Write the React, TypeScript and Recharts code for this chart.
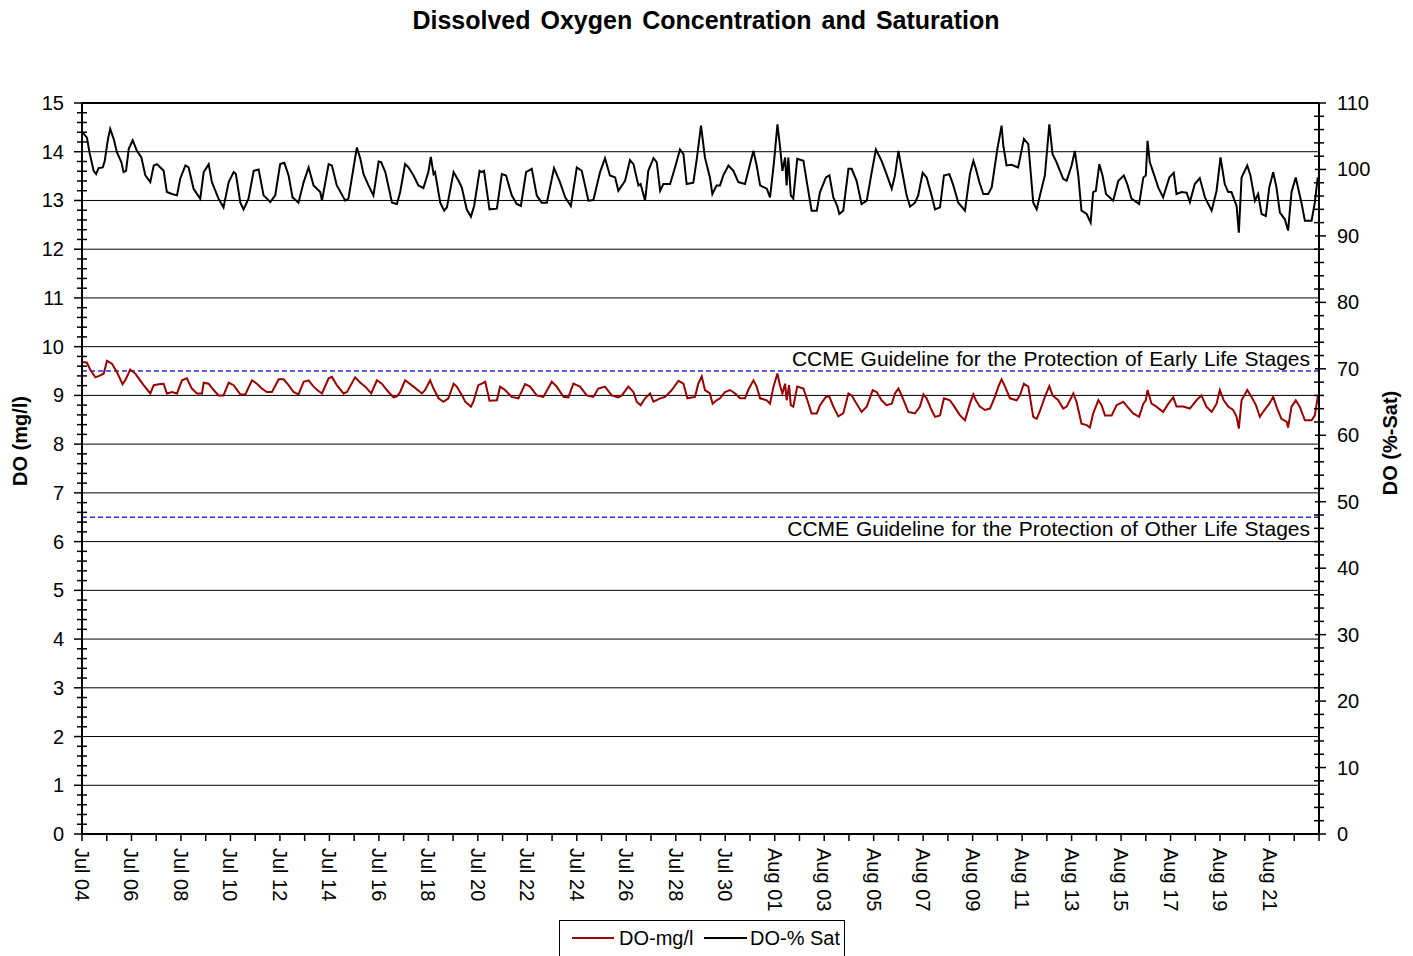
import { LineChart, Line, XAxis, YAxis, CartesianGrid, ReferenceLine } from "recharts";

const FONT = "Arial, 'Liberation Sans', sans-serif";

// x = days since Jul 04 00:00
const dateLabels = [
  "Jul 04", "Jul 06", "Jul 08", "Jul 10", "Jul 12", "Jul 14", "Jul 16", "Jul 18", "Jul 20",
  "Jul 22", "Jul 24", "Jul 26", "Jul 28", "Jul 30", "Aug 01", "Aug 03", "Aug 05", "Aug 07",
  "Aug 09", "Aug 11", "Aug 13", "Aug 15", "Aug 17", "Aug 19", "Aug 21",
];

// DO % saturation (right axis)
const satPoints: [number, number][] = [
  [0, 105.7], [0.2, 104.8], [0.3, 102.6], [0.47, 99.8], [0.57, 99.3], [0.67, 100.2], [0.84, 100.3], [0.92, 101.3],
  [1.05, 104.6], [1.14, 106.1], [1.28, 104.6], [1.41, 102.6], [1.59, 101.1], [1.68, 99.6], [1.78, 99.8], [1.89, 103.1],
  [2.05, 104.4], [2.22, 102.8], [2.4, 101.8], [2.56, 99.1], [2.76, 98.1], [2.9, 100.6], [3.03, 100.8], [3.17, 100.3],
  [3.3, 99.8], [3.43, 96.6], [3.64, 96.3], [3.84, 96.1], [3.97, 98.6], [4.18, 100.6], [4.31, 100.3], [4.51, 97.1],
  [4.78, 95.6], [4.92, 99.6], [5.12, 100.8], [5.25, 98.1], [5.52, 95.6], [5.72, 94.3], [5.93, 98.1], [6.13, 99.6],
  [6.22, 99.3], [6.4, 95.0], [6.53, 94.0], [6.73, 95.6], [6.94, 99.8], [7.14, 100.0], [7.34, 96.1], [7.61, 95.1],
  [7.81, 96.1], [8.01, 100.8], [8.18, 101.0], [8.35, 99.1], [8.51, 95.8], [8.75, 95.0], [8.96, 98.1], [9.16, 100.3],
  [9.36, 97.6], [9.63, 96.6], [9.7, 95.3], [9.97, 100.8], [10.1, 100.6], [10.3, 97.6], [10.64, 95.3], [10.77, 95.6],
  [11.11, 103.3], [11.25, 101.6], [11.38, 99.3], [11.58, 97.6], [11.78, 96.1], [11.99, 101.2], [12.09, 101.1], [12.26, 99.6],
  [12.53, 95.0], [12.73, 94.8], [12.86, 96.6], [13.06, 100.8], [13.2, 100.3], [13.4, 99.1], [13.6, 97.6], [13.8, 97.2],
  [14.0, 99.6], [14.1, 101.9], [14.21, 99.3], [14.27, 99.6], [14.48, 95.0], [14.64, 93.8], [14.75, 94.3], [15.02, 99.6],
  [15.22, 98.3], [15.35, 97.3], [15.55, 94.0], [15.72, 92.9], [15.85, 94.5], [16.07, 99.8], [16.16, 99.6], [16.25, 99.8],
  [16.47, 94.0], [16.77, 94.1], [16.97, 99.3], [17.14, 99.1], [17.37, 96.1], [17.57, 94.8], [17.74, 94.5], [17.95, 99.6],
  [18.18, 100.1], [18.38, 96.1], [18.58, 95.0], [18.79, 95.0], [19.08, 100.2], [19.32, 98.1], [19.53, 95.8], [19.76, 94.5],
  [20.0, 100.3], [20.2, 99.8], [20.47, 95.3], [20.67, 95.4], [20.94, 99.6], [21.14, 101.7], [21.34, 99.1], [21.55, 98.8],
  [21.68, 96.8], [21.95, 98.3], [22.15, 101.4], [22.29, 100.8], [22.49, 97.6], [22.58, 97.8], [22.76, 95.3], [22.89, 99.8],
  [23.1, 101.7], [23.23, 101.1], [23.37, 96.8], [23.5, 97.8], [23.77, 97.8], [23.97, 100.3], [24.17, 103.0], [24.31, 102.3],
  [24.44, 97.8], [24.71, 98.0], [24.85, 101.6], [25.02, 106.6], [25.18, 101.8], [25.38, 98.8], [25.48, 96.3], [25.65, 97.6],
  [25.79, 97.6], [25.92, 99.1], [26.13, 100.6], [26.33, 99.8], [26.53, 98.1], [26.8, 97.8], [27.0, 100.8], [27.14, 102.8],
  [27.27, 100.6], [27.41, 97.6], [27.68, 97.1], [27.81, 95.8], [27.97, 101.1], [28.11, 106.8], [28.21, 103.6], [28.31, 99.8],
  [28.42, 101.8], [28.48, 97.6], [28.55, 101.8], [28.65, 96.1], [28.75, 95.6], [28.91, 101.6], [29.16, 101.3], [29.32, 97.6],
  [29.49, 93.8], [29.7, 93.8], [29.83, 96.6], [30.07, 98.8], [30.21, 99.1], [30.37, 95.8], [30.53, 94.5], [30.61, 93.3],
  [30.77, 93.8], [30.98, 100.1], [31.11, 100.1], [31.31, 98.3], [31.51, 94.8], [31.72, 95.3], [31.92, 99.6], [32.09, 103.0],
  [32.32, 101.3], [32.52, 99.3], [32.73, 97.1], [32.86, 99.1], [33.0, 102.8], [33.13, 100.1], [33.33, 96.1], [33.47, 94.4],
  [33.67, 95.0], [33.8, 96.1], [33.98, 99.5], [34.14, 98.8], [34.34, 96.1], [34.48, 94.0], [34.68, 94.3], [34.84, 99.1],
  [35.06, 99.3], [35.22, 97.6], [35.42, 95.0], [35.69, 93.8], [35.89, 99.3], [36.03, 101.3], [36.13, 100.1], [36.27, 98.1],
  [36.43, 96.3], [36.63, 96.3], [36.77, 97.3], [37.0, 103.1], [37.17, 106.6], [37.24, 103.6], [37.37, 100.6], [37.57, 100.7],
  [37.84, 100.3], [38.07, 104.6], [38.25, 103.8], [38.45, 95.0], [38.59, 94.0], [38.72, 96.1], [38.92, 99.1], [39.1, 106.8],
  [39.23, 102.3], [39.39, 101.1], [39.53, 99.8], [39.66, 98.6], [39.8, 98.3], [40.0, 100.6], [40.13, 102.8], [40.27, 99.1],
  [40.4, 93.8], [40.61, 93.3], [40.77, 92.0], [40.87, 96.6], [40.98, 96.8], [41.12, 100.8], [41.25, 99.1], [41.39, 96.3],
  [41.68, 95.3], [41.89, 98.3], [42.11, 99.1], [42.25, 97.8], [42.42, 95.6], [42.73, 94.8], [42.9, 98.8], [43.0, 99.1],
  [43.07, 104.3], [43.16, 101.1], [43.37, 98.8], [43.5, 97.3], [43.7, 95.8], [43.95, 98.8], [44.13, 99.5], [44.24, 96.3],
  [44.44, 96.6], [44.65, 96.5], [44.78, 95.1], [44.98, 97.8], [45.18, 98.7], [45.39, 95.8], [45.66, 93.8], [45.86, 96.8],
  [46.02, 101.8], [46.19, 97.8], [46.33, 96.6], [46.46, 96.6], [46.67, 94.5], [46.76, 90.5], [46.87, 98.8], [47.1, 100.6],
  [47.23, 99.1], [47.41, 95.3], [47.54, 96.3], [47.68, 93.3], [47.85, 93.0], [47.99, 97.3], [48.15, 99.6], [48.28, 97.3],
  [48.42, 93.5], [48.62, 92.5], [48.75, 90.8], [48.89, 96.6], [49.06, 98.8], [49.29, 95.0], [49.43, 92.3], [49.7, 92.3],
  [49.83, 95.0], [49.95, 98.8],
];

// DO mg/l (left axis)
const doPoints: [number, number][] = [
  [0, 9.69], [0.2, 9.67], [0.34, 9.52], [0.54, 9.37], [0.74, 9.41], [0.88, 9.45], [1.01, 9.71], [1.21, 9.65],
  [1.41, 9.48], [1.64, 9.23], [1.75, 9.31], [1.95, 9.53], [2.15, 9.45], [2.29, 9.35], [2.49, 9.21], [2.76, 9.04],
  [2.9, 9.21], [3.1, 9.23], [3.3, 9.24], [3.43, 9.04], [3.64, 9.07], [3.84, 9.04], [4.04, 9.31], [4.24, 9.35],
  [4.44, 9.14], [4.65, 9.04], [4.85, 9.04], [4.92, 9.26], [5.12, 9.24], [5.32, 9.11], [5.52, 9.0], [5.72, 9.0],
  [5.93, 9.26], [6.13, 9.21], [6.4, 9.02], [6.6, 9.02], [6.87, 9.31], [7.07, 9.24], [7.27, 9.14], [7.47, 9.07],
  [7.68, 9.07], [7.95, 9.33], [8.15, 9.33], [8.35, 9.21], [8.55, 9.07], [8.75, 9.02], [8.96, 9.28], [9.16, 9.31],
  [9.36, 9.18], [9.56, 9.09], [9.7, 9.04], [9.97, 9.35], [10.1, 9.38], [10.3, 9.21], [10.57, 9.04], [10.71, 9.07],
  [11.04, 9.37], [11.25, 9.26], [11.45, 9.18], [11.69, 9.04], [11.92, 9.31], [12.12, 9.24], [12.32, 9.11], [12.59, 8.96],
  [12.73, 8.98], [12.86, 9.07], [13.06, 9.31], [13.4, 9.18], [13.74, 9.04], [13.87, 9.11], [14.07, 9.31], [14.21, 9.14],
  [14.41, 8.94], [14.61, 8.87], [14.81, 8.94], [15.02, 9.24], [15.15, 9.18], [15.35, 9.01], [15.49, 8.87], [15.72, 8.77],
  [15.82, 8.87], [16.02, 9.21], [16.16, 9.24], [16.3, 9.28], [16.47, 8.89], [16.77, 8.9], [16.9, 9.18], [17.1, 9.11],
  [17.37, 8.97], [17.64, 8.94], [17.91, 9.23], [18.11, 9.18], [18.38, 9.0], [18.65, 8.97], [18.99, 9.28], [19.19, 9.18],
  [19.46, 8.97], [19.66, 8.96], [19.86, 9.24], [20.13, 9.18], [20.4, 9.0], [20.67, 8.97], [20.87, 9.14], [21.14, 9.18],
  [21.41, 9.0], [21.68, 8.96], [21.82, 9.0], [22.08, 9.18], [22.29, 9.07], [22.42, 8.87], [22.58, 8.8], [22.76, 8.94],
  [22.96, 9.04], [23.1, 8.87], [23.37, 8.94], [23.57, 8.97], [23.84, 9.11], [24.11, 9.3], [24.31, 9.24], [24.47, 8.94],
  [24.78, 8.97], [24.91, 9.24], [25.05, 9.39], [25.18, 9.11], [25.38, 9.04], [25.49, 8.83], [25.65, 8.9], [25.79, 8.94],
  [25.99, 9.07], [26.19, 9.11], [26.4, 9.04], [26.6, 8.94], [26.8, 8.94], [26.93, 9.11], [27.14, 9.31], [27.27, 9.18],
  [27.41, 8.94], [27.68, 8.9], [27.81, 8.83], [27.95, 9.18], [28.11, 9.45], [28.21, 9.21], [28.31, 9.04], [28.42, 9.24],
  [28.48, 8.9], [28.58, 9.21], [28.65, 8.8], [28.75, 8.77], [28.91, 9.18], [29.16, 9.14], [29.32, 8.9], [29.49, 8.63],
  [29.7, 8.63], [29.83, 8.8], [30.07, 8.97], [30.21, 8.97], [30.37, 8.77], [30.57, 8.57], [30.77, 8.63], [30.98, 9.04],
  [31.11, 9.0], [31.31, 8.83], [31.51, 8.66], [31.72, 8.77], [31.96, 9.11], [32.12, 9.07], [32.32, 8.9], [32.52, 8.8],
  [32.73, 8.83], [32.86, 9.04], [33.0, 9.14], [33.13, 9.0], [33.4, 8.66], [33.67, 8.63], [33.87, 8.77], [34.01, 9.02],
  [34.14, 8.94], [34.34, 8.7], [34.48, 8.56], [34.68, 8.59], [34.84, 8.94], [35.08, 8.9], [35.22, 8.8], [35.49, 8.59],
  [35.69, 8.49], [35.89, 8.83], [36.03, 9.02], [36.13, 8.9], [36.29, 8.77], [36.5, 8.7], [36.7, 8.73], [36.9, 8.97],
  [37.04, 9.18], [37.17, 9.33], [37.31, 9.18], [37.51, 8.94], [37.78, 8.9], [37.91, 9.0], [38.07, 9.24], [38.25, 9.18],
  [38.45, 8.56], [38.59, 8.52], [38.72, 8.68], [38.92, 8.97], [39.1, 9.19], [39.23, 9.0], [39.46, 8.9], [39.66, 8.73],
  [39.8, 8.77], [40.07, 9.04], [40.2, 8.87], [40.4, 8.42], [40.61, 8.39], [40.74, 8.34], [40.87, 8.63], [41.08, 8.9],
  [41.21, 8.8], [41.35, 8.59], [41.62, 8.59], [41.82, 8.8], [42.09, 8.87], [42.25, 8.77], [42.49, 8.63], [42.73, 8.56],
  [42.9, 8.83], [43.0, 8.9], [43.07, 9.11], [43.23, 8.83], [43.43, 8.77], [43.7, 8.66], [43.91, 8.83], [44.11, 8.96],
  [44.24, 8.77], [44.51, 8.77], [44.78, 8.73], [45.05, 8.9], [45.25, 9.0], [45.45, 8.77], [45.66, 8.66], [45.86, 8.83],
  [45.99, 9.11], [46.15, 8.9], [46.33, 8.77], [46.53, 8.7], [46.67, 8.56], [46.76, 8.32], [46.87, 8.9], [47.1, 9.11],
  [47.27, 8.97], [47.45, 8.8], [47.61, 8.56], [47.74, 8.66], [47.99, 8.83], [48.15, 8.97], [48.31, 8.73], [48.48, 8.52],
  [48.69, 8.46], [48.75, 8.34], [48.89, 8.77], [49.06, 8.9], [49.22, 8.77], [49.43, 8.49], [49.7, 8.49], [49.83, 8.59],
  [49.96, 9.0],
];

const guidelines = [
  { value: 9.5, text: "CCME Guideline for the Protection of Early Life Stages", above: true },
  { value: 6.5, text: "CCME Guideline for the Protection of Other Life Stages", above: false },
];

const gridValues = [1, 2, 3, 4, 5, 6, 7, 8, 9, 10, 11, 12, 13, 14];
const leftTicks = Array.from({ length: 76 }, (_, i) => +(i * 0.2).toFixed(1));
const rightTicks = Array.from({ length: 56 }, (_, i) => i * 2);
const dayTicks = Array.from({ length: 51 }, (_, i) => i);

const satData = satPoints.map(([t, v]) => ({ t, v }));
const doData = doPoints.map(([t, v]) => ({ t, v }));

function LeftTick(props: any) {
  const { x, y, payload } = props;
  const v = payload.value as number;
  const major = Math.abs(v - Math.round(v)) < 1e-6;
  return (
    <g>
      {major
        ? <line x1={x - 8} x2={x} y1={y} y2={y} stroke="#000" strokeWidth={1.5} />
        : <line x1={x - 5} x2={x + 5} y1={y} y2={y} stroke="#000" strokeWidth={1.5} />}
      {major && (
        <text x={x - 18} y={y} dy="0.35em" textAnchor="end" fontSize={20} fontFamily={FONT} fill="#000">
          {Math.round(v)}
        </text>
      )}
    </g>
  );
}

function RightTick(props: any) {
  const { x, y, payload } = props;
  const v = payload.value as number;
  const major = v % 10 === 0;
  return (
    <g>
      {major
        ? <line x1={x - 4} x2={x + 7} y1={y} y2={y} stroke="#000" strokeWidth={1.5} />
        : <line x1={x - 5} x2={x + 5} y1={y} y2={y} stroke="#000" strokeWidth={1.5} />}
      {major && (
        <text x={x + 18} y={y} dy="0.35em" textAnchor="start" fontSize={20} fontFamily={FONT} fill="#000">
          {v}
        </text>
      )}
    </g>
  );
}

function DayTick(props: any) {
  const { x, y, payload } = props;
  const d = Math.round(payload.value);
  const label = d % 2 === 0 ? dateLabels[d / 2] : undefined;
  return (
    <g>
      <line x1={x} x2={x} y1={y} y2={y + 7} stroke="#000" strokeWidth={1.5} />
      {label && (
        <text transform={`translate(${x},${y + 14}) rotate(90)`} dy="0.35em" textAnchor="start"
          fontSize={20} fontFamily={FONT} fill="#000">
          {label}
        </text>
      )}
    </g>
  );
}

export default function App() {
  return (
    <div style={{ position: "absolute", left: 0, top: 0, width: 1413, height: 956, background: "#fff", fontFamily: FONT }}>
      <LineChart width={1413} height={956} margin={{ top: 103, right: 0, bottom: 0, left: 0 }}>
        <CartesianGrid yAxisId="left" vertical={false} horizontalValues={gridValues} stroke="#000" strokeWidth={1} />
        <XAxis
          type="number" dataKey="t" domain={[0, 50]} ticks={dayTicks} interval={0}
          height={122} tickSize={0} tickMargin={0} tickLine={false}
          axisLine={{ stroke: "#000", strokeWidth: 2 }} tick={<DayTick />} allowDataOverflow
        />
        <YAxis
          yAxisId="left" orientation="left" type="number" domain={[0, 15]} ticks={leftTicks} interval={0}
          width={82} tickSize={0} tickMargin={0} tickLine={false}
          axisLine={{ stroke: "#000", strokeWidth: 2 }} tick={<LeftTick />}
        />
        <YAxis
          yAxisId="right" orientation="right" type="number" domain={[0, 110]} ticks={rightTicks} interval={0}
          width={94} tickSize={0} tickMargin={0} tickLine={false}
          axisLine={{ stroke: "#000", strokeWidth: 2 }} tick={<RightTick />}
        />
        <ReferenceLine yAxisId="left" y={15} stroke="#000" strokeWidth={2} />
        {guidelines.map((g) => (
          <ReferenceLine
            key={g.value} yAxisId="left" y={g.value} stroke="#2b2bd0" strokeWidth={1.5} strokeDasharray="5 3"
            label={(p: any) => {
              const vb = p.viewBox;
              return (
                <text x={vb.x + vb.width - 9} y={g.above ? vb.y - 5 : vb.y + 19} textAnchor="end"
                  fontSize={21} fontFamily={FONT} fill="#000" style={{ wordSpacing: 1 }}>
                  {g.text}
                </text>
              );
            }}
          />
        ))}
        <Line yAxisId="right" data={satData} dataKey="v" type="linear" stroke="#000" strokeWidth={2}
          dot={false} isAnimationActive={false} />
        <Line yAxisId="left" data={doData} dataKey="v" type="linear" stroke="#990000" strokeWidth={2}
          dot={false} isAnimationActive={false} />
      </LineChart>

      <svg width={1413} height={956} style={{ position: "absolute", left: 0, top: 0, pointerEvents: "none" }}>
        <text x={706} y={29} textAnchor="middle" fontSize={25} fontWeight="bold" fontFamily={FONT} fill="#000"
          style={{ wordSpacing: 3 }}>
          Dissolved Oxygen Concentration and Saturation
        </text>
        <text transform="translate(27,441) rotate(-90)" textAnchor="middle" fontSize={20} fontWeight="bold"
          fontFamily={FONT} fill="#000">
          DO (mg/l)
        </text>
        <text transform="translate(1397,443) rotate(-90)" textAnchor="middle" fontSize={20} fontWeight="bold"
          fontFamily={FONT} fill="#000">
          DO (%-Sat)
        </text>
        <rect x={559.5} y={920.5} width={285} height={40} fill="#fff" stroke="#000" strokeWidth={1} />
        <line x1={572} x2={614} y1={938} y2={938} stroke="#990000" strokeWidth={2} />
        <text x={619} y={945} fontSize={20} fontFamily={FONT} fill="#000">DO-mg/l</text>
        <line x1={704} x2={747} y1={938} y2={938} stroke="#000" strokeWidth={2} />
        <text x={750} y={945} fontSize={20} fontFamily={FONT} fill="#000">DO-% Sat</text>
      </svg>
    </div>
  );
}
